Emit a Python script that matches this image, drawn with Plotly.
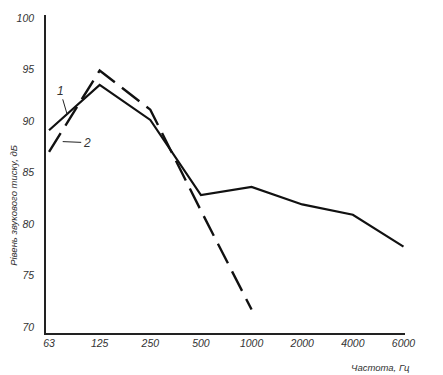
import plotly.graph_objects as go

freq_labels = ["63", "125", "250", "500", "1000", "2000", "4000", "6000"]
series1 = [89.1, 93.5, 90.1, 82.8, 83.6, 81.9, 80.9, 77.8]
series2 = [87.0, 94.9, 91.1, 81.3, 71.7]
y_ticks = [70, 75, 80, 85, 90, 95, 100]

x_idx = list(range(len(freq_labels)))

fig = go.Figure()
fig.add_trace(go.Scatter(x=x_idx, y=series1, mode="lines",
                         line=dict(color="#111111", width=2.2), showlegend=False))
fig.add_trace(go.Scatter(x=x_idx[:len(series2)], y=series2, mode="lines",
                         line=dict(color="#111111", width=2.4, dash="22px,9px"),
                         showlegend=False))

font = dict(family="Liberation Sans, Arial, sans-serif", size=10.5, color="#333333", style="italic")
title_font = dict(family="Liberation Sans, Arial, sans-serif", size=9.5, color="#333333", style="italic")

# page body has an 8px margin, so the figure is sized to fit the window
fig.update_layout(
    width=435, height=367,
    margin=dict(l=38, r=38, t=4, b=42),
    paper_bgcolor="white", plot_bgcolor="white",
    font=font,
    xaxis=dict(range=[-0.06, 7.03], tickvals=x_idx, ticktext=freq_labels,
               showgrid=False, zeroline=False, showline=True,
               linecolor="#222222", linewidth=1.5, ticks="", tickfont=font),
    yaxis=dict(range=[69.42, 100.29], tickvals=y_ticks,
               showgrid=False, zeroline=False, showline=True,
               linecolor="#222222", linewidth=1.5, ticks="", ticklabelstandoff=8,
               tickfont=font),
)

# y-axis title
fig.add_annotation(text="Рівень звукового тиску, дБ", xref="paper", yref="paper",
                   x=-0.089, y=0.40, textangle=-90, showarrow=False,
                   font=title_font, xanchor="center", yanchor="middle")
# x-axis title
fig.add_annotation(text="Частота, Гц", xref="paper", yref="paper",
                   x=1.02, y=-0.085, showarrow=False, font=title_font,
                   xanchor="right", yanchor="top")

# curve labels with leader lines
fig.add_annotation(text="1", x=0.36, y=90.6, ax=-7, ay=-24, showarrow=True,
                   arrowhead=0, arrowwidth=1, arrowcolor="#222222",
                   font=dict(family="Liberation Sans, Arial, sans-serif", size=12,
                             color="#333333", style="italic"))
fig.add_annotation(text="2", x=0.27, y=88.0, ax=24, ay=1, showarrow=True,
                   arrowhead=0, arrowwidth=1, arrowcolor="#222222",
                   font=dict(family="Liberation Sans, Arial, sans-serif", size=12,
                             color="#333333", style="italic"))

fig.write_html("out.html")
